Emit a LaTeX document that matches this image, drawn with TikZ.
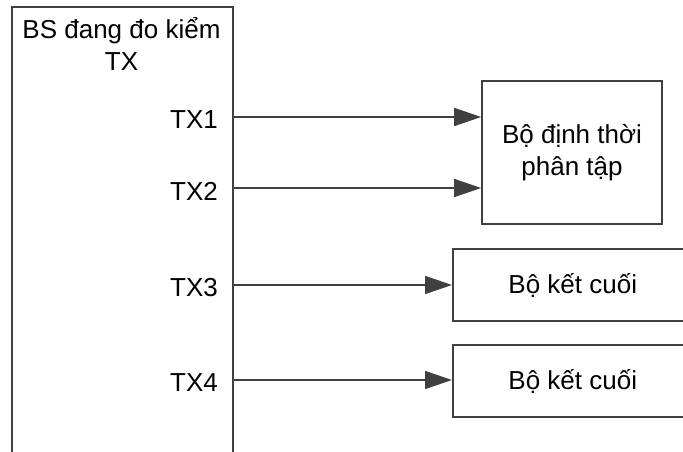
\documentclass[tikz,border=0pt]{standalone}
\usepackage{fontspec}
\setmainfont{Liberation Sans}
\usepackage{xcolor}
\usepackage{tikz}
\usetikzlibrary{arrows.meta, positioning}
\definecolor{linegray}{HTML}{404040}

\begin{document}
\begin{tikzpicture}[
  x=1pt, y=-1pt,
  every node/.style={font=\fontsize{26}{31.7}\selectfont},
  block/.style={draw=linegray, line width=1.6pt, align=center},
  port/.style={anchor=east, inner sep=0pt},
  sig/.style={draw=linegray, line width=1.6pt,
    -{Triangle[length=27pt, width=18pt, fill=linegray]}}
]
\useasboundingbox (0,0) rectangle (683,452);
\clip (0,0) rectangle (683,452);
\node[block, anchor=north west, minimum width=221pt, minimum height=480pt] (bs) at (11,6) {};
\node[align=center] (title) at (121.5,44) {BS đang đo kiểm\\TX};
\node[block, minimum width=180pt, minimum height=143pt] (timer) at (572,152.5) {Bộ định thời\\phân tập};
\node[block, anchor=west, minimum width=240pt, minimum height=72pt] (term1) at (452,285) {Bộ kết cuối};
\node[block, anchor=west, minimum width=240pt, minimum height=72pt] (term2) at (452,381) {Bộ kết cuối};
\coordinate (tx1) at (232,117);
\coordinate (tx2) at (232,188);
\coordinate (tx3) at (232,285);
\coordinate (tx4) at (232,380);
\node[port] (l1) at (218,120) {TX1};
\node[port] (l2) at (218,191) {TX2};
\node[port] (l3) at (218,288) {TX3};
\node[port] (l4) at (218,383) {TX4};
\draw[sig] (tx1) -- (tx1 -| timer.west);
\draw[sig] (tx2) -- (tx2 -| timer.west);
\draw[sig] (tx3) -- (term1.west);
\draw[sig] (tx4) -- (tx4 -| term2.west);
\end{tikzpicture}
\end{document}
